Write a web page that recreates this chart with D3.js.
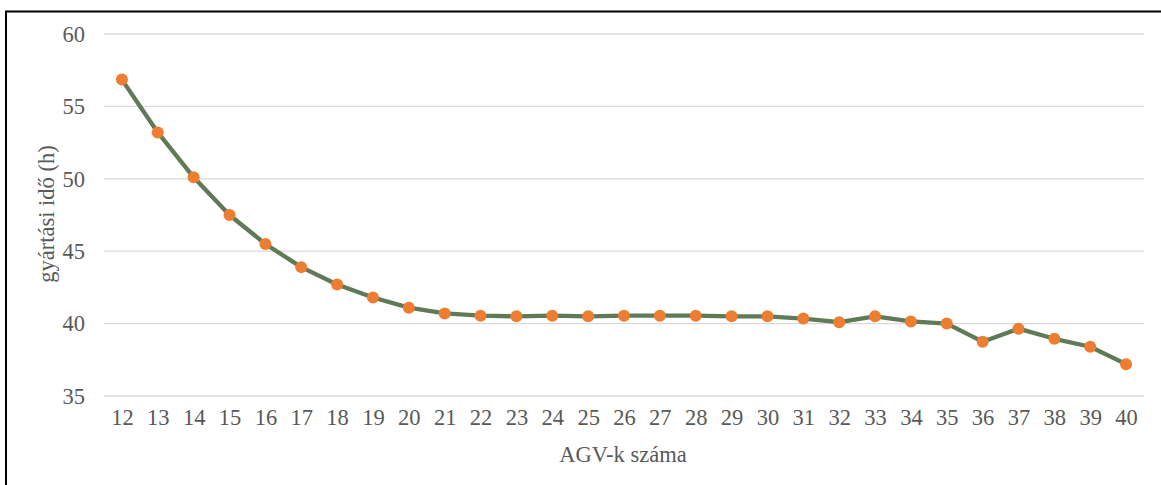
<!DOCTYPE html>
<html>
<head>
<meta charset="utf-8">
<script src="https://cdn.jsdelivr.net/npm/d3@7"></script>
<style>
  body { margin: 0; background: #fff; }
  svg { display: block; font-family: "Liberation Serif", "Times New Roman", serif; }
</style>
</head>
<body>
<div id="chart"></div>
<script>
// AGV count (categories) and production time (h)
const agvCounts = [12, 13, 14, 15, 16, 17, 18, 19, 20, 21, 22, 23, 24, 25, 26, 27, 28, 29, 30, 31, 32, 33, 34, 35, 36, 37, 38, 39, 40];
const hours = [56.85, 53.2, 50.1, 47.5, 45.5, 43.9, 42.7, 41.8, 41.1, 40.7, 40.55, 40.5, 40.55, 40.5, 40.55, 40.55, 40.55, 40.5, 40.5, 40.35, 40.1, 40.5, 40.15, 40.0, 38.75, 39.65, 38.95, 38.4, 37.2];
const yTicks = [35, 40, 45, 50, 55, 60];

const W = 1161, H = 485;
const data = agvCounts.map((d, i) => ({ n: d, v: hours[i] }));

const svg = d3.select("#chart")
  .append("svg")
  .attr("width", W)
  .attr("height", H);

// frame (only top and left edges visible in the crop)
svg.append("rect")
  .attr("x", 6)
  .attr("y", 11.5)
  .attr("width", W + 20)
  .attr("height", H + 20)
  .attr("fill", "none")
  .attr("stroke", "#000")
  .attr("stroke-width", 2);

// === Scales ===
const x = d3.scalePoint()
  .domain(agvCounts)
  .range([104, 1144])
  .padding(0.5);

const y = d3.scaleLinear()
  .domain([35, 60])
  .range([396, 34]);

// === Gridlines ===
svg.append("g")
  .selectAll("line")
  .data(yTicks)
  .join("line")
  .attr("x1", 104)
  .attr("x2", 1144)
  .attr("y1", d => y(d))
  .attr("y2", d => y(d))
  .attr("stroke", "#d9d9d9")
  .attr("stroke-width", 1.3);

// === Axes ===
const fontSize = "22.5px";

const yAxis = svg.append("g")
  .attr("transform", "translate(85,0)")
  .call(d3.axisLeft(y).tickValues(yTicks).tickSize(0).tickPadding(0));
yAxis.select(".domain").remove();
yAxis.selectAll("text")
  .attr("fill", "#595959")
  .style("font-size", fontSize)
  .style("font-family", "Liberation Serif, serif");

const xAxis = svg.append("g")
  .attr("transform", "translate(0,409)")
  .call(d3.axisBottom(x).tickSize(0).tickPadding(0));
xAxis.select(".domain").remove();
xAxis.selectAll("text")
  .attr("fill", "#595959")
  .style("font-size", fontSize)
  .style("font-family", "Liberation Serif, serif");

// === Labels ===
svg.append("text")
  .attr("x", 623)
  .attr("y", 462)
  .attr("text-anchor", "middle")
  .attr("fill", "#595959")
  .style("font-size", fontSize)
  .text("AGV-k száma");

svg.append("text")
  .attr("transform", "rotate(-90)")
  .attr("x", -214)
  .attr("y", 54)
  .attr("text-anchor", "middle")
  .attr("fill", "#595959")
  .style("font-size", fontSize)
  .text("gyártási idő (h)");

// === Line ===
const line = d3.line()
  .x(d => x(d.n))
  .y(d => y(d.v));

svg.append("path")
  .datum(data)
  .attr("d", line)
  .attr("fill", "none")
  .attr("stroke", "#5f7a57")
  .attr("stroke-width", 4.3)
  .attr("stroke-linejoin", "round");

// === Markers ===
svg.append("g")
  .selectAll("circle")
  .data(data)
  .join("circle")
  .attr("cx", d => x(d.n))
  .attr("cy", d => y(d.v))
  .attr("r", 6)
  .attr("fill", "#ed7d31");
</script>
</body>
</html>
